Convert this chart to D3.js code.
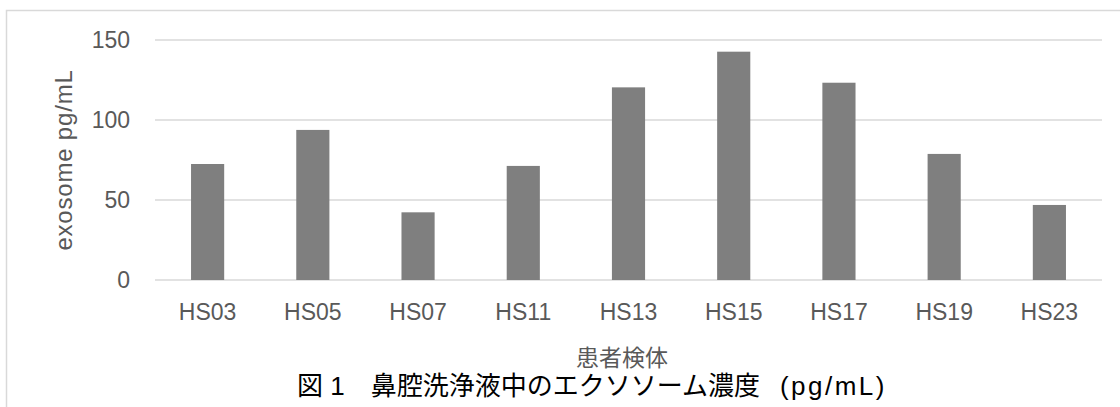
<!DOCTYPE html>
<html>
<head>
<meta charset="utf-8">
<script src="https://cdn.jsdelivr.net/npm/d3@7"></script>
<style>
  html, body { margin: 0; padding: 0; background: #fff; }
  svg { display: block; }
</style>
</head>
<body>
<svg id="chart" width="1120" height="407"></svg>
<script>
// Exosome concentration in nasal lavage fluid, per patient sample
const samples = ["HS03", "HS05", "HS07", "HS11", "HS13", "HS15", "HS17", "HS19", "HS23"];
const exosome = [72.5, 93.8, 42.3, 71.3, 120.4, 142.7, 123.3, 78.8, 46.9];
const yTicks = [0, 50, 100, 150];
const yLabel = "exosome pg/mL";
const xLabel = "患者検体";
const caption = ["図 1\u3000鼻腔洗浄液中のエクソソーム濃度", "(pg/mL)"];

const svg = d3.select("#chart");
const latin = "'Liberation Sans', Arial, 'Noto Sans CJK JP', sans-serif";
const grey = "#595959";

const plot = { left: 155, right: 1102, top: 40, bottom: 280 };

// chart frame (clipped on the right and bottom)
svg.append("path")
  .attr("d", `M6.5,407 V10.5 H1120`)
  .attr("fill", "none")
  .attr("stroke", "#d9d9d9")
  .attr("stroke-width", 1.5);

const x = d3.scaleBand()
  .domain(samples)
  .range([plot.left, plot.right])
  .paddingInner(0.685)
  .paddingOuter(0.3425);

const y = d3.scaleLinear()
  .domain([0, 150])
  .range([plot.bottom, plot.top]);

// horizontal gridlines
svg.append("g")
  .selectAll("line")
  .data(yTicks)
  .join("line")
  .attr("x1", plot.left)
  .attr("x2", plot.right)
  .attr("y1", d => y(d))
  .attr("y2", d => y(d))
  .attr("stroke", "#d9d9d9")
  .attr("stroke-width", 1.5);

// y axis tick labels
const yAxis = d3.axisLeft(y).tickValues(yTicks).tickSize(0).tickPadding(0);
svg.append("g")
  .attr("transform", `translate(130,0)`)
  .call(yAxis)
  .call(g => g.select(".domain").remove())
  .call(g => g.selectAll("text")
    .attr("fill", grey)
    .attr("font-family", latin)
    .attr("font-size", 23));

// bars
svg.append("g")
  .selectAll("rect")
  .data(samples.map((s, i) => ({ s, v: exosome[i] })))
  .join("rect")
  .attr("x", d => x(d.s))
  .attr("width", x.bandwidth())
  .attr("y", d => y(d.v))
  .attr("height", d => y(0) - y(d.v))
  .attr("fill", "#7f7f7f");

// x axis category labels
const xAxis = d3.axisBottom(x).tickSize(0).tickPadding(0);
svg.append("g")
  .attr("transform", `translate(0,${plot.bottom})`)
  .call(xAxis)
  .call(g => g.select(".domain").remove())
  .call(g => g.selectAll("text")
    .attr("dy", null)
    .attr("y", 40)
    .attr("fill", grey)
    .attr("font-family", latin)
    .attr("font-size", 23));

// y axis title, reading bottom to top
svg.append("text")
  .attr("transform", `translate(72,${(plot.top + plot.bottom) / 2}) rotate(-90)`)
  .attr("text-anchor", "middle")
  .attr("fill", grey)
  .attr("font-family", latin)
  .attr("font-size", 24)
  .attr("letter-spacing", 0.8)
  .text(yLabel);

// x axis title
svg.append("text")
  .attr("x", 622)
  .attr("y", 366)
  .attr("text-anchor", "middle")
  .attr("fill", grey)
  .attr("font-family", "'Noto Sans CJK JP', sans-serif")
  .attr("font-size", 23)
  .text(xLabel);

// figure caption
const cap = svg.append("text")
  .attr("x", 297)
  .attr("y", 395)
  .attr("fill", "#000")
  .attr("font-family", latin)
  .attr("font-size", 26);
cap.append("tspan").text(caption[0]);
cap.append("tspan").attr("dx", 20).attr("letter-spacing", 2.5).text(caption[1]);
</script>
</body>
</html>
